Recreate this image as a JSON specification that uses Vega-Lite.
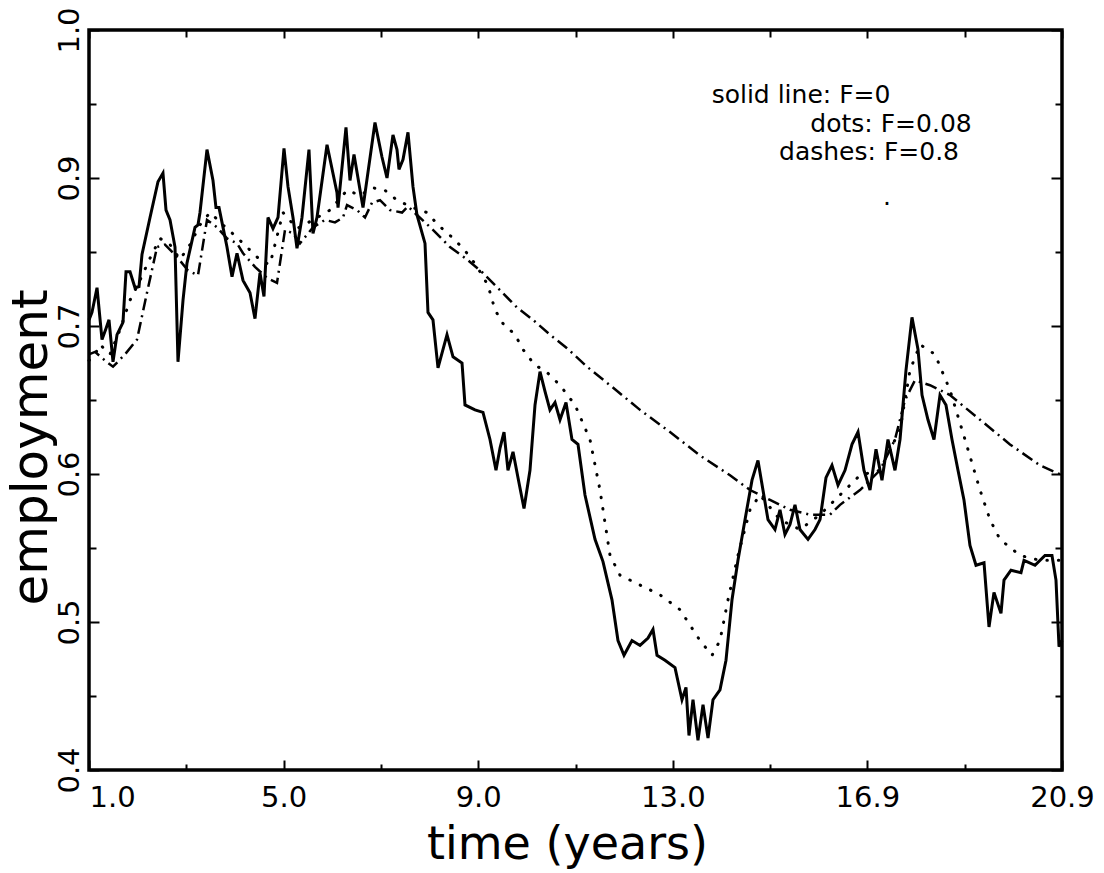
{
  "$schema": "https://vega.github.io/schema/vega-lite/v6.json",
  "width": 973,
  "height": 740,
  "autosize": {"type": "none"},
  "padding": {"left": 89, "top": 30, "right": 42, "bottom": 103},
  "background": "white",
  "config": {
    "view": {"stroke": "black", "strokeWidth": 3.5},
    "axis": {
      "domain": false, "grid": false, "tickColor": "black", "tickWidth": 2,
      "labelColor": "black", "titleColor": "black", "labelFont": "DejaVu Sans",
      "titleFont": "DejaVu Sans", "titleFontWeight": "normal", "labelFontSize": 29,
      "labelOverlap": false, "labelBound": false, "labelFlush": false
    }
  },
  "datasets": {
    "solid": [
      {"t":1.000,"e":0.765},{"t":1.061,"e":0.771},{"t":1.164,"e":0.791},{"t":1.266,"e":0.749},{"t":1.348,"e":0.758},{"t":1.409,"e":0.765},{"t":1.491,"e":0.731},{"t":1.573,"e":0.753},{"t":1.695,"e":0.763},{"t":1.757,"e":0.804},{"t":1.839,"e":0.804},{"t":1.941,"e":0.791},{"t":2.023,"e":0.792},{"t":2.084,"e":0.818},{"t":2.248,"e":0.848},{"t":2.411,"e":0.877},{"t":2.513,"e":0.884},{"t":2.575,"e":0.854},{"t":2.657,"e":0.846},{"t":2.759,"e":0.824},{"t":2.820,"e":0.731},{"t":2.923,"e":0.781},{"t":3.004,"e":0.811},{"t":3.168,"e":0.840},{"t":3.229,"e":0.842},{"t":3.270,"e":0.852},{"t":3.413,"e":0.903},{"t":3.536,"e":0.878},{"t":3.597,"e":0.856},{"t":3.659,"e":0.856},{"t":3.822,"e":0.824},{"t":3.925,"e":0.800},{"t":4.027,"e":0.819},{"t":4.150,"e":0.797},{"t":4.293,"e":0.787},{"t":4.395,"e":0.766},{"t":4.497,"e":0.803},{"t":4.579,"e":0.784},{"t":4.661,"e":0.848},{"t":4.763,"e":0.839},{"t":4.866,"e":0.848},{"t":4.988,"e":0.904},{"t":5.070,"e":0.873},{"t":5.172,"e":0.848},{"t":5.254,"e":0.823},{"t":5.356,"e":0.848},{"t":5.499,"e":0.903},{"t":5.581,"e":0.835},{"t":5.663,"e":0.848},{"t":5.868,"e":0.907},{"t":6.072,"e":0.868},{"t":6.093,"e":0.856},{"t":6.256,"e":0.921},{"t":6.338,"e":0.878},{"t":6.420,"e":0.899},{"t":6.604,"e":0.856},{"t":6.849,"e":0.925},{"t":6.992,"e":0.897},{"t":7.095,"e":0.880},{"t":7.217,"e":0.915},{"t":7.299,"e":0.903},{"t":7.340,"e":0.887},{"t":7.422,"e":0.895},{"t":7.524,"e":0.917},{"t":7.626,"e":0.873},{"t":7.708,"e":0.850},{"t":7.872,"e":0.827},{"t":7.933,"e":0.771},{"t":8.035,"e":0.765},{"t":8.138,"e":0.726},{"t":8.322,"e":0.753},{"t":8.445,"e":0.735},{"t":8.629,"e":0.730},
      {"t":8.690,"e":0.696},{"t":8.894,"e":0.692},{"t":9.058,"e":0.690},{"t":9.201,"e":0.668},{"t":9.324,"e":0.643},{"t":9.406,"e":0.661},{"t":9.488,"e":0.674},{"t":9.569,"e":0.643},{"t":9.672,"e":0.658},{"t":9.774,"e":0.637},{"t":9.897,"e":0.612},{"t":10.019,"e":0.643},{"t":10.122,"e":0.696},{"t":10.224,"e":0.723},{"t":10.326,"e":0.707},{"t":10.428,"e":0.692},{"t":10.531,"e":0.698},{"t":10.633,"e":0.684},{"t":10.756,"e":0.698},{"t":10.878,"e":0.668},{"t":11.001,"e":0.664},{"t":11.144,"e":0.623},{"t":11.349,"e":0.587},{"t":11.512,"e":0.569},{"t":11.696,"e":0.538},{"t":11.819,"e":0.505},{"t":11.942,"e":0.493},{"t":12.105,"e":0.505},{"t":12.269,"e":0.501},{"t":12.433,"e":0.507},{"t":12.535,"e":0.514},{"t":12.617,"e":0.493},{"t":12.780,"e":0.489},{"t":12.985,"e":0.483},{"t":13.128,"e":0.457},{"t":13.210,"e":0.467},{"t":13.271,"e":0.428},{"t":13.353,"e":0.457},{"t":13.455,"e":0.424},{"t":13.558,"e":0.453},{"t":13.660,"e":0.426},{"t":13.762,"e":0.457},{"t":13.905,"e":0.465},{"t":14.028,"e":0.489},{"t":14.151,"e":0.538},{"t":14.273,"e":0.570},{"t":14.417,"e":0.603},{"t":14.560,"e":0.635},{"t":14.682,"e":0.651},{"t":14.784,"e":0.627},{"t":14.887,"e":0.603},{"t":15.030,"e":0.595},{"t":15.132,"e":0.611},{"t":15.234,"e":0.591},{"t":15.337,"e":0.599},{"t":15.439,"e":0.615},{"t":15.541,"e":0.595},{"t":15.705,"e":0.587},{"t":15.848,"e":0.595},{"t":15.951,"e":0.603},{"t":16.073,"e":0.637},{"t":16.196,"e":0.647},{"t":16.319,"e":0.631},{"t":16.462,"e":0.643},{"t":16.605,"e":0.664},{"t":16.728,"e":0.674},{"t":16.850,"e":0.643},{"t":16.973,"e":0.627},{"t":17.096,"e":0.660},{"t":17.218,"e":0.635},{"t":17.341,"e":0.668},{"t":17.484,"e":0.643},{"t":17.587,"e":0.668},{"t":17.709,"e":0.724},{"t":17.832,"e":0.767},{"t":17.955,"e":0.741},{"t":18.037,"e":0.704},{"t":18.159,"e":0.684},{"t":18.282,"e":0.668},{"t":18.405,"e":0.704},{"t":18.527,"e":0.696},{"t":18.650,"e":0.668},{"t":18.773,"e":0.643},{"t":18.895,"e":0.619},{"t":19.018,"e":0.582},{"t":19.141,"e":0.566},{"t":19.305,"e":0.568},{"t":19.407,"e":0.516},{"t":19.509,"e":0.544},{"t":19.652,"e":0.527},{"t":19.714,"e":0.554},{"t":19.857,"e":0.562},{"t":20.061,"e":0.560},{"t":20.123,"e":0.570},{"t":20.348,"e":0.566},{"t":20.552,"e":0.574},{"t":20.695,"e":0.574},{"t":20.777,"e":0.554},{"t":20.839,"e":0.500},{"t":20.900,"e":0.505}
    ],
    "dots": [
      {"t":1.000,"e":0.732},{"t":1.123,"e":0.737},{"t":1.225,"e":0.745},{"t":1.429,"e":0.737},{"t":1.634,"e":0.757},{"t":1.839,"e":0.781},{"t":2.043,"e":0.797},{"t":2.248,"e":0.815},{"t":2.452,"e":0.831},{"t":2.657,"e":0.826},{"t":2.861,"e":0.814},{"t":3.066,"e":0.826},{"t":3.270,"e":0.842},{"t":3.475,"e":0.852},{"t":3.741,"e":0.842},{"t":4.047,"e":0.831},{"t":4.334,"e":0.820},{"t":4.538,"e":0.812},{"t":4.702,"e":0.810},{"t":4.968,"e":0.852},{"t":5.254,"e":0.839},{"t":5.581,"e":0.846},{"t":5.929,"e":0.854},{"t":6.277,"e":0.870},{"t":6.543,"e":0.866},{"t":6.808,"e":0.872},{"t":7.054,"e":0.870},{"t":7.299,"e":0.862},{"t":7.626,"e":0.856},{"t":7.913,"e":0.852},{"t":8.138,"e":0.842},{"t":8.424,"e":0.832},{"t":8.649,"e":0.823},{"t":8.833,"e":0.814},{"t":8.997,"e":0.804},{"t":9.160,"e":0.793},{"t":9.304,"e":0.773},{"t":9.467,"e":0.762},{"t":9.713,"e":0.753},{"t":9.876,"e":0.741},{"t":10.122,"e":0.728},{"t":10.326,"e":0.724},{"t":10.633,"e":0.712},{"t":10.940,"e":0.696},{"t":11.246,"e":0.668},{"t":11.451,"e":0.627},{"t":11.656,"e":0.574},{"t":11.860,"e":0.558},{"t":12.269,"e":0.550},{"t":12.678,"e":0.542},{"t":13.087,"e":0.530},{"t":13.496,"e":0.505},{"t":13.742,"e":0.493},{"t":13.905,"e":0.505},{"t":14.069,"e":0.538},{"t":14.273,"e":0.574},{"t":14.519,"e":0.611},{"t":14.723,"e":0.623},{"t":15.132,"e":0.603},{"t":15.541,"e":0.595},{"t":15.951,"e":0.607},{"t":16.360,"e":0.623},{"t":16.769,"e":0.639},{"t":17.177,"e":0.643},{"t":17.587,"e":0.676},{"t":17.791,"e":0.724},{"t":17.996,"e":0.745},{"t":18.302,"e":0.737},{"t":18.609,"e":0.708},{"t":18.916,"e":0.668},{"t":19.223,"e":0.627},{"t":19.427,"e":0.603},{"t":19.632,"e":0.587},{"t":20.041,"e":0.574},{"t":20.450,"e":0.570},{"t":20.900,"e":0.570}
    ],
    "dashes": [
      {"t":1.000,"e":0.737},{"t":1.123,"e":0.739},{"t":1.327,"e":0.732},{"t":1.491,"e":0.727},{"t":1.736,"e":0.737},{"t":1.982,"e":0.749},{"t":2.186,"e":0.787},{"t":2.391,"e":0.824},{"t":2.554,"e":0.826},{"t":2.800,"e":0.816},{"t":3.025,"e":0.805},{"t":3.229,"e":0.801},{"t":3.413,"e":0.846},{"t":3.618,"e":0.840},{"t":3.822,"e":0.831},{"t":4.027,"e":0.827},{"t":4.150,"e":0.819},{"t":4.395,"e":0.808},{"t":4.640,"e":0.799},{"t":4.845,"e":0.795},{"t":5.009,"e":0.838},{"t":5.172,"e":0.835},{"t":5.315,"e":0.827},{"t":5.581,"e":0.840},{"t":5.827,"e":0.846},{"t":6.031,"e":0.844},{"t":6.195,"e":0.848},{"t":6.277,"e":0.858},{"t":6.481,"e":0.854},{"t":6.645,"e":0.848},{"t":6.788,"e":0.860},{"t":6.952,"e":0.862},{"t":7.156,"e":0.854},{"t":7.402,"e":0.852},{"t":7.524,"e":0.857},{"t":7.708,"e":0.850},{"t":8.035,"e":0.838},{"t":8.383,"e":0.824},{"t":8.731,"e":0.814},{"t":9.058,"e":0.803},{"t":9.406,"e":0.789},{"t":9.753,"e":0.775},{"t":10.081,"e":0.765},{"t":10.428,"e":0.753},{"t":10.776,"e":0.742},{"t":11.185,"e":0.727},{"t":11.656,"e":0.712},{"t":12.269,"e":0.692},{"t":12.883,"e":0.674},{"t":13.496,"e":0.655},{"t":14.110,"e":0.639},{"t":14.519,"e":0.627},{"t":14.928,"e":0.619},{"t":15.337,"e":0.611},{"t":15.746,"e":0.607},{"t":16.155,"e":0.607},{"t":16.360,"e":0.615},{"t":16.769,"e":0.627},{"t":17.177,"e":0.643},{"t":17.484,"e":0.668},{"t":17.689,"e":0.700},{"t":17.893,"e":0.716},{"t":18.200,"e":0.712},{"t":18.609,"e":0.704},{"t":19.223,"e":0.684},{"t":19.836,"e":0.664},{"t":20.450,"e":0.647},{"t":20.900,"e":0.639}
    ],
    "notes": [
      {"t":15.562,"e":0.941,"label":"solid line: F=0"},
      {"t":17.403,"e":0.917,"label":"dots: F=0.08"},
      {"t":16.953,"e":0.895,"label":"dashes: F=0.8"},
      {"t":17.320,"e":0.858,"label":"."}
    ]
  },
  "resolve": {"axis": {"x": "independent", "y": "independent"}},
  "layer": [
    {
      "data": {"name": "solid"},
      "mark": {"type": "line", "color": "black", "strokeWidth": 3},
      "encoding": {
        "x": {"field": "t", "type": "quantitative", "scale": {"domain": [1, 20.9], "nice": false, "zero": false},
          "axis": {"orient": "bottom", "values": [1, 4.98, 8.96, 12.94, 16.92, 20.9],
            "labelExpr": "datum.value < 2 ? '1.0' : datum.value < 6 ? '5.0' : datum.value < 10 ? '9.0' : datum.value < 14 ? '13.0' : datum.value < 18 ? '16.9' : '20.9'",
            "tickSize": -10, "labelPadding": 46, "labelBaseline": "alphabetic",
            "labelAlign": {"condition": {"test": "datum.value < 2", "value": "left"}, "value": "center"},
            "title": "time (years)", "titleFontSize": 46, "titleX": 478, "titleY": 88,
            "titleAlign": "center", "titleBaseline": "alphabetic", "titleAnchor": null}},
        "y": {"field": "e", "type": "quantitative", "scale": {"domain": [0.4, 1.0], "nice": false, "zero": false},
          "axis": {"orient": "left", "values": [0.4, 0.52, 0.64, 0.76, 0.88, 1.0],
            "labelExpr": "datum.value < 0.45 ? '0.4' : datum.value < 0.55 ? '0.5' : datum.value < 0.7 ? '0.6' : datum.value < 0.8 ? '0.7' : datum.value < 0.95 ? '0.9' : '1.0'",
            "tickSize": -10, "labelPadding": 21, "labelAngle": -90, "labelAlign": "center", "labelBaseline": "alphabetic",
            "title": "employment", "titleFontSize": 50, "titleAngle": -90, "titleX": -43, "titleY": 417,
            "titleAlign": "center", "titleBaseline": "alphabetic"}}
      }
    },
    {
      "data": {"name": "dots"},
      "mark": {"type": "line", "color": "black", "strokeWidth": 3, "strokeCap": "round", "strokeDash": [0.5, 11]},
      "encoding": {
        "x": {"field": "t", "type": "quantitative", "scale": {"domain": [1, 20.9], "nice": false, "zero": false},
          "axis": {"orient": "bottom", "values": [2.99, 6.97, 10.95, 14.93, 18.91], "labels": false, "tickSize": -6, "title": null}},
        "y": {"field": "e", "type": "quantitative", "scale": {"domain": [0.4, 1.0], "nice": false, "zero": false},
          "axis": {"orient": "left", "values": [0.46, 0.58, 0.70, 0.82, 0.94], "labels": false, "tickSize": -7, "title": null}}
      }
    },
    {
      "data": {"name": "dashes"},
      "mark": {"type": "line", "color": "black", "strokeWidth": 2.5, "strokeDash": [12, 5, 2, 5]},
      "encoding": {
        "x": {"field": "t", "type": "quantitative", "scale": {"domain": [1, 20.9], "nice": false, "zero": false},
          "axis": {"orient": "top", "values": [1, 4.98, 8.96, 12.94, 16.92, 20.9], "labels": false, "tickSize": -8, "title": null}},
        "y": {"field": "e", "type": "quantitative", "scale": {"domain": [0.4, 1.0], "nice": false, "zero": false},
          "axis": {"orient": "right", "values": [0.4, 0.52, 0.64, 0.76, 0.88, 1.0], "labels": false, "tickSize": -11, "title": null}}
      }
    },
    {
      "data": {"name": "notes"},
      "mark": {"type": "text", "font": "DejaVu Sans", "fontSize": 25, "align": "center", "baseline": "alphabetic", "fill": "black"},
      "encoding": {
        "x": {"field": "t", "type": "quantitative", "scale": {"domain": [1, 20.9], "nice": false, "zero": false},
          "axis": {"orient": "top", "values": [2.99, 6.97, 10.95, 14.93, 18.91], "labels": false, "tickSize": -7, "title": null}},
        "y": {"field": "e", "type": "quantitative", "scale": {"domain": [0.4, 1.0], "nice": false, "zero": false},
          "axis": {"orient": "right", "values": [0.46, 0.58, 0.70, 0.82, 0.94], "labels": false, "tickSize": -7, "title": null}},
        "text": {"field": "label", "type": "nominal"}
      }
    }
  ]
}
